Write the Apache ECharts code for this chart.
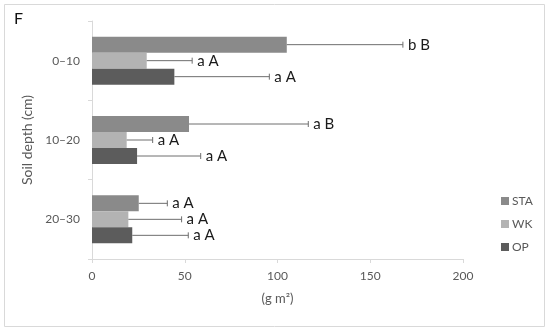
<!DOCTYPE html>
<html><head><meta charset="utf-8">
<script src="https://cdn.jsdelivr.net/npm/echarts@6/dist/echarts.min.js"></script>
<style>html,body{margin:0;padding:0;background:#fff}#c{width:550px;height:332px}</style>
</head><body><div id="c"></div>
<script>
const categories = ['0–10', '10–20', '20–30'];
const seriesNames = ['STA', 'WK', 'OP'];
const STA = [105, 52.3, 25.2];
const WK = [29.5, 18.7, 19.6];
const OP = [44.4, 24.3, 21.7];
const STA_err = [62.6, 64.3, 15.4];
const WK_err = [24.5, 14.0, 28.7];
const OP_err = [51.2, 34.3, 30.2];
const STA_lbl = ['b B', 'a B', 'a A'];
const WK_lbl = ['a A', 'a A', 'a A'];
const OP_lbl = ['a A', 'a A', 'a A'];
const xTicks = [0, 50, 100, 150, 200];

const colors = {STA: '#8a8a8a', WK: '#b3b3b3', OP: '#5c5c5c'};
const vals = {STA: STA, WK: WK, OP: OP};
const errs = {STA: STA_err, WK: WK_err, OP: OP_err};
const lbls = {STA: STA_lbl, WK: WK_lbl, OP: OP_lbl};
const BW = 16;
const offsets = {STA: -BW, WK: 0, OP: BW};
const font = 'Lato, "Open Sans", sans-serif';

const chart = echarts.init(document.getElementById('c'));
const series = [];
seriesNames.forEach(n => {
  series.push({
    name: n, type: 'bar', data: vals[n], barWidth: BW, barGap: '0%',
    itemStyle: {color: colors[n]}, z: 2
  });
});
seriesNames.forEach(n => {
  series.push({
    type: 'custom', name: n + '_err', z: 3, silent: true,
    data: vals[n].map((v, i) => [v, i, errs[n][i]]),
    renderItem: function (params, api) {
      const v = api.value(0), i = api.value(1), e = api.value(2);
      const p0 = api.coord([v, i]);
      const p1 = api.coord([v + e, i]);
      const y = p0[1] + offsets[n];
      return {
        type: 'group',
        children: [
          {type: 'line', shape: {x1: p0[0], y1: y, x2: p1[0], y2: y}, style: {stroke: '#6e6e6e', lineWidth: 1}},
          {type: 'line', shape: {x1: p1[0], y1: y - 3, x2: p1[0], y2: y + 3}, style: {stroke: '#6e6e6e', lineWidth: 1}},
          {type: 'text', x: p1[0] + 5, y: y, style: {text: lbls[n][i], fill: '#1a1a1a', font: '15px ' + font, verticalAlign: 'middle', align: 'left'}}
        ]
      };
    }
  });
});

chart.setOption({
  animation: false,
  textStyle: {fontFamily: font},
  graphic: [
    {type: 'rect', shape: {x: 4.5, y: 4.5, width: 540, height: 322}, style: {fill: 'none', stroke: '#d9d9d9', lineWidth: 1}, z: -1},
    {type: 'text', left: 14, top: 11, style: {text: 'F', fill: '#111', font: '16px ' + font}}
  ],
  legend: {
    orient: 'vertical', left: 496, top: 190, itemWidth: 8, itemHeight: 8, itemGap: 11,
    data: seriesNames,
    textStyle: {color: '#595959', fontSize: 12, padding: [0, 0, 0, -2]},
    icon: 'rect'
  },
  grid: {left: 92, right: 87, top: 21, bottom: 73},
  xAxis: {
    type: 'value', min: 0, max: 200, interval: 50,
    name: '(g m²)', nameLocation: 'middle', nameGap: 33,
    nameTextStyle: {color: '#595959', fontSize: 13},
    axisLine: {show: true, lineStyle: {color: '#d9d9d9'}},
    axisTick: {show: true, length: 4, lineStyle: {color: '#d9d9d9'}},
    axisLabel: {color: '#595959', fontSize: 12, margin: 11},
    splitLine: {show: false}
  },
  yAxis: {
    type: 'category', data: categories, inverse: true,
    name: 'Soil depth (cm)', nameLocation: 'middle', nameGap: 56, nameRotate: 90,
    nameTextStyle: {color: '#595959', fontSize: 14},
    axisLine: {show: true, lineStyle: {color: '#d9d9d9'}},
    axisTick: {show: true, length: 4, lineStyle: {color: '#d9d9d9'}},
    axisLabel: {color: '#595959', fontSize: 12, margin: 12}
  },
  series: series
});
</script></body></html>
